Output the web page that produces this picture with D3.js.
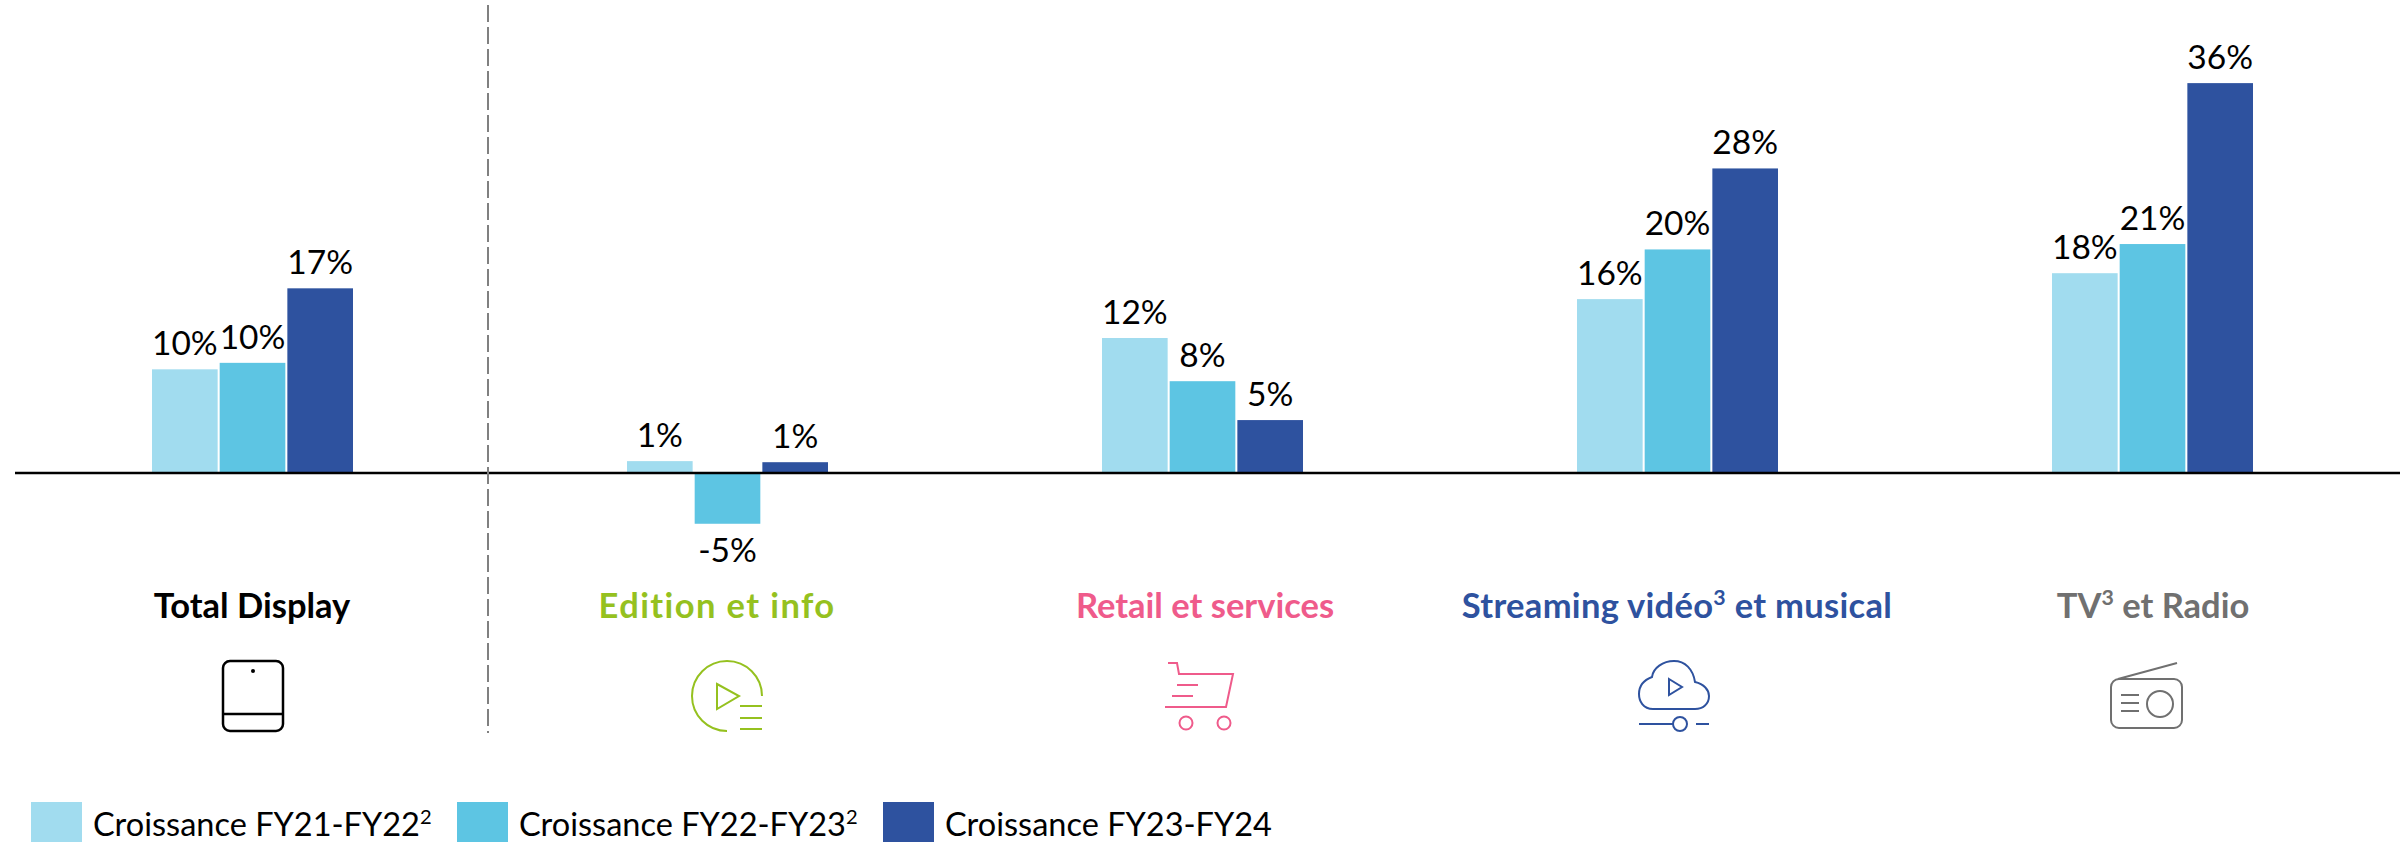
<!DOCTYPE html>
<html>
<head>
<meta charset="utf-8">
<script src="https://cdn.jsdelivr.net/npm/d3@7"></script>
<style>
  html, body { margin: 0; padding: 0; background: #fff; }
  text { font-family: Lato, "Open Sans", sans-serif; }
</style>
</head>
<body>
<div id="chart"></div>
<script>
var categories = ["Total Display", "Edition et info", "Retail et services", "Streaming vidéo³ et musical", "TV³ et Radio"];
var seriesNames = ["Croissance FY21-FY22²", "Croissance FY22-FY23²", "Croissance FY23-FY24"];

// bar heights
var fy2122 = [9.6, 1.1, 12.5, 16.1, 18.5];
var fy2223 = [10.2, -4.7, 8.5, 20.7, 21.2];
var fy2324 = [17.1, 1.0, 4.9, 28.2, 36.1];

// printed labels
var labels2122 = ["10%", "1%", "12%", "16%", "18%"];
var labels2223 = ["10%", "-5%", "8%", "20%", "21%"];
var labels2324 = ["17%", "1%", "5%", "28%", "36%"];

var barColors = ["#a1dcef", "#5dc5e3", "#2e529f"];
var categoryColors = ["#000000", "#95c11f", "#ef5b8b", "#2e529f", "#707070"];

var svgWidth = 2400;
var svgHeight = 842;

var svg = d3.select("#chart")
  .append("svg")
  .attr("width", svgWidth)
  .attr("height", svgHeight)
  .style("display", "block");

// Scales
var x0 = d3.scaleBand()
  .domain(categories)
  .range([15, 2390])
  .paddingInner(274 / 475)
  .paddingOuter(137 / 475);

var x1 = d3.scaleBand()
  .domain(seriesNames)
  .range([0, x0.bandwidth()])
  .paddingInner(0.03);

var y = d3.scaleLinear()
  .domain([-10, 40])
  .range([581, 41]);

var color = d3.scaleOrdinal().domain(seriesNames).range(barColors);

// Bars
var rows = seriesNames.map(function(name, i) {
  return {
    name: name,
    values: [fy2122, fy2223, fy2324][i],
    labels: [labels2122, labels2223, labels2324][i]
  };
});

var points = [];
rows.forEach(function(row) {
  categories.forEach(function(cat, j) {
    points.push({ series: row.name, cat: cat, value: row.values[j], label: row.labels[j] });
  });
});

svg.append("g").selectAll("rect")
  .data(points)
  .enter()
  .append("rect")
  .attr("x", d => x0(d.cat) + x1(d.series))
  .attr("y", d => y(Math.max(0, d.value)))
  .attr("width", x1.bandwidth())
  .attr("height", d => Math.abs(y(d.value) - y(0)))
  .attr("fill", d => color(d.series));

// Value labels
svg.append("g").selectAll("text")
  .data(points)
  .enter()
  .append("text")
  .attr("x", d => x0(d.cat) + x1(d.series) + x1.bandwidth() / 2)
  .attr("y", d => d.value < 0 ? y(d.value) + 38 : y(d.value) - 14)
  .attr("text-anchor", "middle")
  .attr("font-size", 33.5)
  .attr("fill", "#000")
  .text(d => d.label);

// Zero line
svg.append("line")
  .attr("x1", 15)
  .attr("x2", 2400)
  .attr("y1", y(0))
  .attr("y2", y(0))
  .attr("stroke", "#000")
  .attr("stroke-width", 2.5);

// Divider
svg.append("line")
  .attr("x1", 488)
  .attr("x2", 488)
  .attr("y1", 5)
  .attr("y2", 733)
  .attr("stroke", "#808080")
  .attr("stroke-width", 2)
  .attr("stroke-dasharray", "17 5");

// writes a string into a text node, with ² and ³ as raised small digits
function withSuperscript(sel) {
  sel.each(function(d) {
    var node = d3.select(this);
    var parts = d.split(/([²³])/);
    var raised = false;
    parts.forEach(function(part) {
      if (part === "") return;
      if (part === "²" || part === "³") {
        node.append("tspan")
          .attr("font-size", "62%")
          .attr("dy", "-0.6em")
          .text(part === "²" ? "2" : "3");
        raised = true;
      } else {
        var t = node.append("tspan").text(part);
        if (raised) t.attr("dy", "0.372em");
        raised = false;
      }
    });
  });
}

// Category titles
var titleCenters = [252, 717, 1205, 1677, 2153];
var titleSpacing = [0, 1.4, 0, 0.3, 0];
svg.append("g").selectAll("text")
  .data(categories)
  .enter()
  .append("text")
  .attr("x", (d, i) => titleCenters[i])
  .attr("y", 618)
  .attr("text-anchor", "middle")
  .attr("font-size", 34.5)
  .attr("font-weight", 700)
  .attr("letter-spacing", (d, i) => titleSpacing[i])
  .attr("fill", (d, i) => categoryColors[i])
  .call(withSuperscript);

// Icons
function icon(x, y, col) {
  return svg.append("g")
    .attr("transform", `translate(${x}, ${y})`)
    .attr("fill", "none")
    .attr("stroke", col)
    .attr("stroke-width", 2);
}

// tablet
var tablet = icon(223, 661, categoryColors[0]);
tablet.append("rect").attr("width", 60).attr("height", 70).attr("rx", 7).attr("stroke-width", 2.5);
tablet.append("line").attr("x1", 0).attr("x2", 60).attr("y1", 53).attr("y2", 53).attr("stroke-width", 2.5);
tablet.append("circle").attr("cx", 30).attr("cy", 10).attr("r", 2).attr("fill", "#000").attr("stroke", "none");

// play list
var play = icon(692, 661, categoryColors[1]);
play.append("path").attr("d", "M70,35 A35,35 0 1 0 35,70");
play.append("path").attr("d", "M25,23 L47,35 L25,48 Z");
play.append("path").attr("d", "M48,45 H70 M48,57 H70 M48,68 H70");

// cart
var cart = icon(1165, 662, categoryColors[2]);
cart.append("path").attr("d", "M3,1 H12 L14,12 H68 L61,45 H0");
cart.append("path").attr("d", "M12,23 H33 M7,34 H28");
cart.append("circle").attr("cx", 21).attr("cy", 61).attr("r", 6.5);
cart.append("circle").attr("cx", 59).attr("cy", 61).attr("r", 6.5);

// cloud
var cloud = icon(1639, 661, categoryColors[3]);
cloud.append("path").attr("d", "M14,48 C4,48 0,40 0,33 C0,25 5,19 13,16 C14,7 24,0 35,0 C46,0 54,8 56,21 C65,23 70,29 70,35 C70,43 64,48 56,48 Z");
cloud.append("path").attr("d", "M30,18 L43,26 L30,34 Z");
cloud.append("path").attr("d", "M0,63 H34 M57,63 H70");
cloud.append("circle").attr("cx", 41).attr("cy", 63).attr("r", 7);

// radio
var radio = icon(2111, 663, categoryColors[4]);
radio.append("rect").attr("y", 16).attr("width", 71).attr("height", 49).attr("rx", 8);
radio.append("path").attr("d", "M7,16 L66,0");
radio.append("path").attr("d", "M10,32 H28 M10,40 H28 M10,48 H28");
radio.append("circle").attr("cx", 49).attr("cy", 41).attr("r", 13);

// Legend
var legendX = [31, 457, 883];
var legend = svg.append("g").selectAll("g")
  .data(seriesNames)
  .enter()
  .append("g")
  .attr("transform", (d, i) => `translate(${legendX[i]}, 802)`);

legend.append("rect")
  .attr("width", 51)
  .attr("height", 40)
  .attr("fill", d => color(d));

legend.append("text")
  .attr("x", 62)
  .attr("y", 34)
  .attr("font-size", 32.5)
  .attr("fill", "#000")
  .call(withSuperscript);
</script>
</body>
</html>
